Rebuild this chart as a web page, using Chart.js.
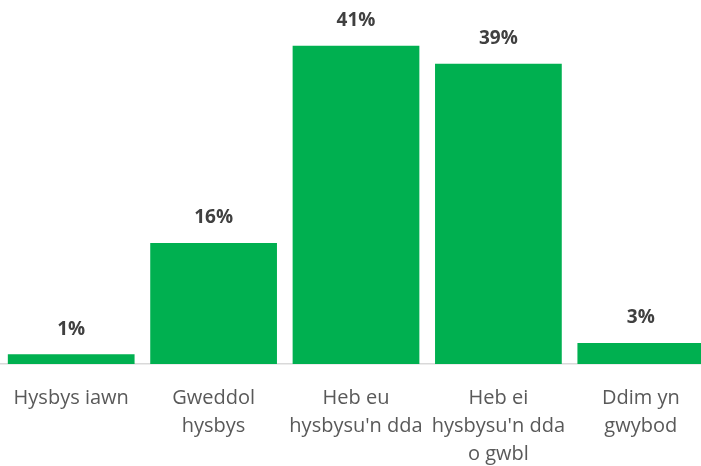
<!DOCTYPE html>
<html>
<head>
<meta charset="utf-8">
<script src="https://cdn.jsdelivr.net/npm/chart.js@4/dist/chart.umd.min.js"></script>
<style>
  html, body { margin: 0; padding: 0; background: #fff; overflow: hidden; }
  #wrap { width: 701px; height: 466px; overflow: hidden; }
</style>
</head>
<body>
<div id="wrap"><canvas id="myChart" width="712" height="466"></canvas></div>
<script>
// categorïau a gwerthoedd (%)
const categories = [
  ['Hysbys iawn'],
  ['Gweddol', 'hysbys'],
  ['Heb eu', "hysbysu'n dda"],
  ['Heb ei', "hysbysu'n dda", 'o gwbl'],
  ['Ddim yn', 'gwybod']
];
// gwerthoedd wedi'u hamcangyfrif o uchder y barrau
const values = [1.25, 15.6, 41, 38.7, 2.7];
const valueLabels = ['1%', '16%', '41%', '39%', '3%'];

const FONT = "'Open Sans', 'Noto Sans', sans-serif";

// labeli uwchben y barrau
const barLabels = {
  id: 'barLabels',
  afterDatasetsDraw(chart) {
    const ctx = chart.ctx;
    const meta = chart.getDatasetMeta(0);
    ctx.save();
    ctx.fillStyle = '#404040';
    ctx.font = 'bold 19px ' + FONT;
    ctx.textAlign = 'center';
    ctx.textBaseline = 'middle';
    meta.data.forEach((bar, i) => {
      ctx.fillText(valueLabels[i], bar.x, bar.y - 25);
    });
    ctx.restore();
  }
};

const ctx = document.getElementById('myChart').getContext('2d');
new Chart(ctx, {
  type: 'bar',
  data: {
    labels: categories,
    datasets: [{
      data: values,
      backgroundColor: '#00B050',
      categoryPercentage: 1,
      barPercentage: 0.89
    }]
  },
  options: {
    responsive: false,
    animation: false,
    layout: { padding: 0 },
    plugins: { legend: { display: false }, tooltip: { enabled: false } },
    scales: {
      x: {
        grid: { display: false },
        border: { display: true, color: '#D9D9D9', width: 1.5 },
        ticks: {
          color: '#595959',
          font: { family: FONT, size: 20, lineHeight: 1.4 },
          padding: 12,
          maxRotation: 0,
          autoSkip: false
        },
        afterFit(scale) { scale.height = 102; }
      },
      y: {
        display: false,
        min: 0,
        max: 46.9
      }
    }
  },
  plugins: [barLabels]
});
</script>
</body>
</html>
